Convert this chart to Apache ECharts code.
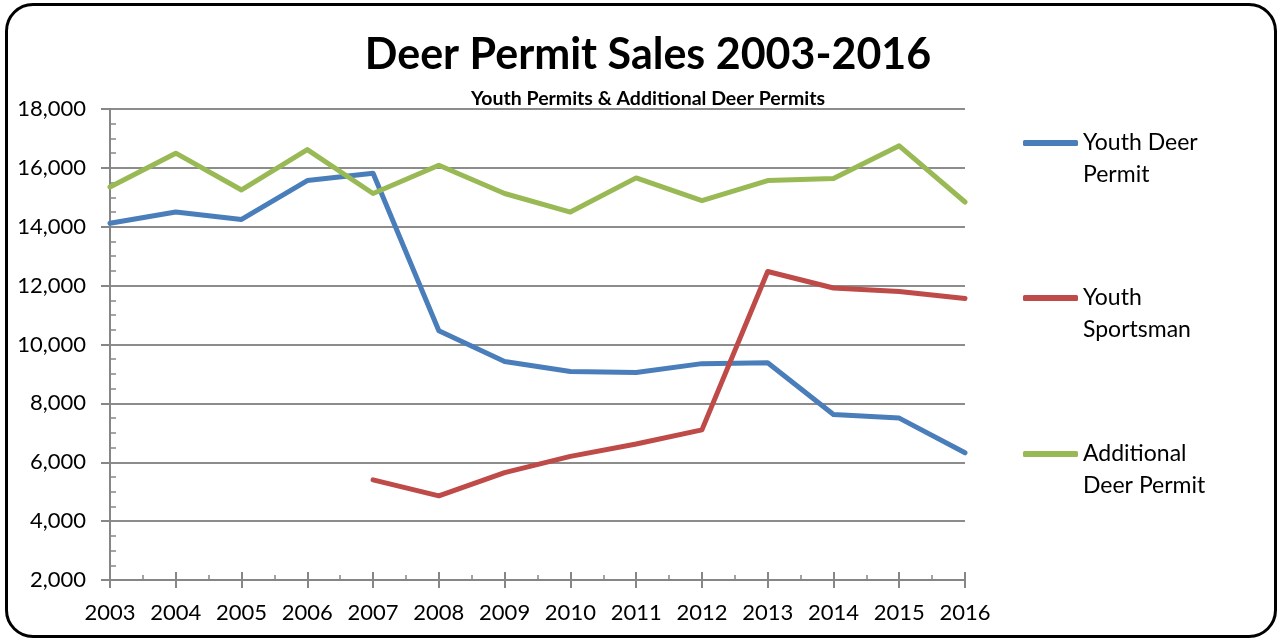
<!DOCTYPE html>
<html>
<head>
<meta charset="utf-8">
<script src="https://cdn.jsdelivr.net/npm/echarts@6/dist/echarts.min.js"></script>
<style>
    html, body { margin: 0; padding: 0; background: #fff; }
    .wrap { position: relative; width: 1278px; height: 640px; }
    .chart { position: absolute; left: 0; top: 0; width: 1278px; height: 640px; }
    /* rounded frame round the chart */
    .frame {
        position: absolute; left: 5px; top: 3px; width: 1266px; height: 629px;
        border: 3px solid #000; border-radius: 28px; pointer-events: none;
    }
</style>
</head>
<body>
<div class="wrap">
    <div class="chart" id="main"></div>
    <div class="frame"></div>
</div>
<script>
// years on the x axis
const years = [2003, 2004, 2005, 2006, 2007, 2008, 2009, 2010, 2011, 2012, 2013, 2014, 2015, 2016]
// permits sold per year
const youthDeer = [14120, 14500, 14250, 15570, 15820, 10470, 9420, 9080, 9050, 9350, 9380, 7620, 7500, 6320]
const youthSportsman = [null, null, null, null, 5400, 4860, 5650, 6200, 6620, 7100, 12480, 11920, 11800, 11560]
const additionalDeer = [15350, 16500, 15250, 16620, 15130, 16090, 15130, 14500, 15660, 14890, 15570, 15640, 16750, 14840]
const seriesNames = ['Youth Deer\nPermit', 'Youth\nSportsman', 'Additional\nDeer Permit']
const colorArr = ['#4a7ebb', '#be4b48', '#98b954']

const font = 'Lato, "Open Sans", sans-serif'
const axisGray = '#868686'

const pairs = (vals) => years.map((y, i) => [y, vals[i]])

const chart = echarts.init(document.getElementById('main'))

// one legend per series, so each can sit at its own height
const legendTops = [95, 250, 406]
const legends = seriesNames.map((name, i) => ({
    data: [name],
    orient: 'vertical',
    left: 1023,
    top: legendTops[i],
    padding: 0,
    icon: 'roundRect',
    itemWidth: 55,
    itemHeight: 6,
    selectedMode: false,
    // blank first line, so the first real line sits level with the icon
    formatter: (n) => '\n' + n,
    textStyle: {
        fontFamily: font,
        fontSize: 23,
        color: '#000',
        lineHeight: 32,
    },
}))

const option = {
    animation: false,
    title: [
        {
            text: 'Deer Permit Sales 2003-2016',
            left: 643,
            textAlign: 'center',
            top: 29,
            textStyle: { fontFamily: font, fontSize: 43, fontWeight: 'bold', color: '#000' },
        },
        {
            text: 'Youth Permits & Additional Deer Permits',
            left: 643,
            textAlign: 'center',
            top: 84,
            textStyle: { fontFamily: font, fontSize: 19.5, fontWeight: 'bold', color: '#000' },
        },
    ],
    legend: legends,
    grid: {
        left: 110,
        right: 313,
        top: 109,
        bottom: 60,
    },
    xAxis: [
        {
            type: 'value',
            min: 2003,
            max: 2016,
            interval: 1,
            axisLine: { lineStyle: { color: axisGray, width: 2 } },
            axisTick: { show: true, length: 8, lineStyle: { color: axisGray, width: 2 } },
            minorTick: { show: true, splitNumber: 2, length: -5, lineStyle: { color: axisGray, width: 1.5 } },
            splitLine: { show: false },
            axisLabel: {
                margin: 22,
                fontFamily: font,
                fontSize: 22,
                color: '#000',
                formatter: (v) => String(v),
            },
        },
        {
            // inner half of the major ticks, so they cross the axis line
            type: 'value',
            min: 2003,
            max: 2016,
            interval: 1,
            position: 'bottom',
            axisLine: { show: false },
            axisTick: { show: true, inside: true, length: 8, lineStyle: { color: axisGray, width: 2 } },
            axisLabel: { show: false },
            splitLine: { show: false },
        },
    ],
    yAxis: {
        type: 'value',
        min: 2000,
        max: 18000,
        interval: 2000,
        axisLine: { show: true, lineStyle: { color: axisGray, width: 2 } },
        axisTick: { show: true, length: 9, lineStyle: { color: axisGray, width: 2 } },
        minorTick: { show: true, splitNumber: 4, length: -6, lineStyle: { color: axisGray, width: 1.5 } },
        splitLine: { show: true, lineStyle: { color: '#8c8c8c', width: 2 } },
        axisLabel: {
            margin: 24,
            fontFamily: font,
            fontSize: 22,
            color: '#000',
            formatter: (v) => v.toLocaleString('en-US'),
        },
    },
    series: [
        { name: seriesNames[0], data: pairs(youthDeer) },
        { name: seriesNames[1], data: pairs(youthSportsman) },
        { name: seriesNames[2], data: pairs(additionalDeer) },
    ].map((s, i) => ({
        ...s,
        type: 'line',
        xAxisIndex: 0,
        symbol: 'none',
        connectNulls: false,
        color: colorArr[i],
        lineStyle: { color: colorArr[i], width: 5, cap: 'round', join: 'round' },
        itemStyle: { color: colorArr[i] },
        z: 3,
    })),
}

chart.setOption(option)
</script>
</body>
</html>
